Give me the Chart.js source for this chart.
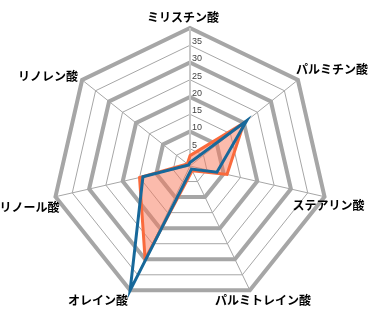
<!DOCTYPE html>
<html>
<head>
<meta charset="utf-8">
<script src="https://cdn.jsdelivr.net/npm/chart.js@4/dist/chart.umd.min.js"></script>
<style>
  html, body { margin: 0; padding: 0; background: #fff; }
  #wrap { width: 368px; height: 317px; }
</style>
</head>
<body>
<div id="wrap"><canvas id="myChart"></canvas></div>
<script>
// axis names, clockwise from the top
const labels = ['ミリスチン酸', 'パルミチン酸', 'ステアリン酸', 'パルミトレイン酸', 'オレイン酸', 'リノール酸', 'リノレン酸'];
const seriesA = [3, 20, 11, 1.5, 30, 15, 1];   // orange, filled
const seriesB = [1, 21, 8, 1, 40, 14, 0.5];    // blue outline
const tickValues = [5, 10, 15, 20, 25, 30, 35];

// where each axis name sits relative to the outer vertex (text centre offset)
const labelOffsets = [[-7, -11], [34, -11], [4, 9], [13, 10], [-32, 10], [-26, 11], [-34, -4]];

// tick labels just right of the vertical axis, axis names placed Excel-style
const labelPlugin = {
  id: 'labels',
  afterDraw(chart) {
    const s = chart.scales.r;
    const ctx = chart.ctx;
    ctx.save();
    ctx.font = '9px "Liberation Sans", sans-serif';
    ctx.fillStyle = '#444';
    ctx.textAlign = 'left';
    ctx.textBaseline = 'bottom';
    tickValues.forEach(v => {
      const y = s.yCenter - s.getDistanceFromCenterForValue(v);
      ctx.fillText(String(v), s.xCenter + 2, y + 1);
    });

    ctx.font = 'bold 12px "Noto Sans CJK JP", sans-serif';
    ctx.fillStyle = '#000';
    ctx.textAlign = 'center';
    ctx.textBaseline = 'middle';
    labels.forEach((name, i) => {
      const p = s.getPointPosition(i, s.drawingArea);
      ctx.fillText(name, p.x + labelOffsets[i][0], p.y + labelOffsets[i][1]);
    });
    ctx.restore();
  }
};

const ctx = document.getElementById('myChart').getContext('2d');
const myChart = new Chart(ctx, {
  type: 'radar',
  data: {
    labels: labels,
    datasets: [{
      data: seriesA,
      order: 1,
      borderColor: '#fa6a3c',
      backgroundColor: 'rgba(248, 120, 90, 0.5)',
      borderWidth: 3,
      fill: true,
      pointRadius: 0,
      borderJoinStyle: 'miter'
    }, {
      data: seriesB,
      order: 0,
      borderColor: '#17689a',
      backgroundColor: 'rgba(0,0,0,0)',
      borderWidth: 3,
      fill: false,
      pointRadius: 0,
      borderJoinStyle: 'miter'
    }]
  },
  options: {
    responsive: true,
    maintainAspectRatio: false,
    animation: false,
    layout: { padding: { top: 28, bottom: 13, left: 52, right: 40 } },
    plugins: { legend: { display: false }, tooltip: { enabled: false } },
    scales: {
      r: {
        min: 0,
        max: 40,
        ticks: { stepSize: 5, display: false },
        grid: {
          color: '#a6a6a6',
          lineWidth: c => (c.tick && c.tick.value % 10 === 0) ? 4 : 1
        },
        angleLines: {
          color: c => c.index === 0 ? '#c8c8c8' : '#a6a6a6',
          lineWidth: c => c.index === 0 ? 2 : 1
        },
        pointLabels: { display: false }
      }
    }
  },
  plugins: [labelPlugin]
});
</script>
</body>
</html>
